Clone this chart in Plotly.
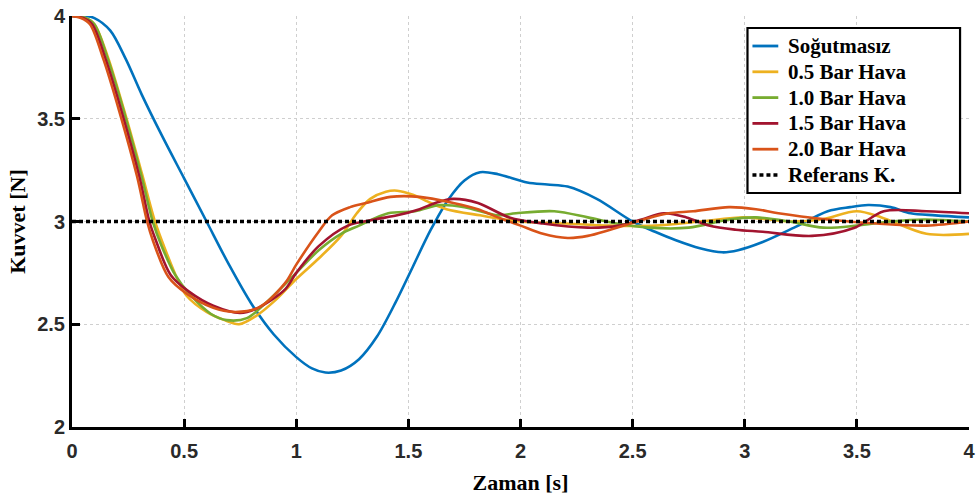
import plotly.graph_objects as go

# Kuvvet yanıtları (zaman [s], kuvvet [N])
t_sogutmasiz = [0, 0.06, 0.10, 0.17, 0.24, 0.31, 0.40, 0.50, 0.60, 0.70, 0.80, 0.90, 1.00, 1.07,
                1.13, 1.20, 1.28, 1.36, 1.44, 1.52, 1.60, 1.68, 1.75, 1.82, 1.90, 2.03, 2.12, 2.21,
                2.34, 2.50, 2.60, 2.69, 2.80, 2.90, 2.97, 3.08, 3.22, 3.37, 3.47, 3.55, 3.65, 3.74,
                3.85, 4.0]
f_sogutmasiz = [4.0, 4.0, 3.99, 3.93, 3.79, 3.62, 3.42, 3.21, 3.00, 2.79, 2.60, 2.45, 2.34, 2.285,
                2.265, 2.275, 2.33, 2.44, 2.60, 2.78, 2.96, 3.11, 3.20, 3.24, 3.23, 3.19, 3.18, 3.17,
                3.11, 3.00, 2.95, 2.91, 2.87, 2.85, 2.86, 2.90, 2.97, 3.05, 3.07, 3.08, 3.07, 3.04,
                3.03, 3.02]

t_05bar = [0, 0.06, 0.10, 0.16, 0.23, 0.31, 0.37, 0.41, 0.47, 0.51, 0.60, 0.68, 0.745, 0.82, 0.91,
           1.0, 1.10, 1.20, 1.27, 1.33, 1.40, 1.45, 1.52, 1.60, 1.67, 1.82, 2.0, 2.2, 2.4, 2.6,
           2.8, 3.0, 3.2, 3.34, 3.50, 3.61, 3.81, 4.0]
f_05bar = [4.0, 3.99, 3.96, 3.80, 3.55, 3.24, 3.00, 2.88, 2.72, 2.64, 2.56, 2.52, 2.50, 2.54, 2.62,
           2.72, 2.82, 2.93, 3.04, 3.11, 3.145, 3.15, 3.13, 3.09, 3.06, 3.03, 3.00, 2.99, 2.98, 2.98,
           3.00, 3.02, 3.00, 3.01, 3.05, 3.02, 2.94, 2.94]

t_10bar = [0, 0.06, 0.10, 0.16, 0.23, 0.31, 0.36, 0.40, 0.46, 0.53, 0.62, 0.69, 0.78, 0.88, 1.0,
           1.10, 1.20, 1.28, 1.41, 1.53, 1.64, 1.75, 1.90, 1.98, 2.15, 2.30, 2.43, 2.57, 2.75,
           2.93, 3.05, 3.2, 3.35, 3.5, 3.65, 3.8, 4.0]
f_10bar = [4.0, 3.99, 3.96, 3.79, 3.54, 3.22, 3.00, 2.88, 2.74, 2.64, 2.55, 2.52, 2.53, 2.62, 2.75,
           2.86, 2.94, 2.98, 3.04, 3.05, 3.08, 3.07, 3.03, 3.04, 3.05, 3.02, 2.99, 2.97, 2.97,
           3.01, 3.02, 3.00, 2.97, 2.98, 3.00, 3.01, 3.00]

t_15bar = [0, 0.05, 0.09, 0.15, 0.22, 0.30, 0.345, 0.37, 0.44, 0.52, 0.63, 0.75, 0.83, 0.95, 1.0,
           1.10, 1.23, 1.35, 1.45, 1.55, 1.62, 1.70, 1.81, 1.95, 2.10, 2.30, 2.44, 2.54, 2.64,
           2.74, 2.84, 2.96, 3.08, 3.30, 3.49, 3.62, 3.81, 4.0]
f_15bar = [4.0, 3.99, 3.96, 3.79, 3.54, 3.22, 3.00, 2.92, 2.74, 2.66, 2.59, 2.555, 2.58, 2.67, 2.75,
           2.88, 2.98, 3.01, 3.03, 3.06, 3.09, 3.11, 3.09, 3.02, 2.99, 2.97, 2.98, 3.01, 3.04,
           3.02, 2.98, 2.96, 2.95, 2.93, 2.97, 3.05, 3.05, 3.04]

t_20bar = [0, 0.04, 0.08, 0.14, 0.21, 0.29, 0.335, 0.36, 0.43, 0.51, 0.63, 0.72, 0.83, 0.95, 1.0,
           1.10, 1.16, 1.24, 1.31, 1.42, 1.55, 1.70, 1.81, 1.90, 2.0, 2.10, 2.21, 2.30, 2.40,
           2.55, 2.66, 2.77, 2.93, 3.05, 3.15, 3.37, 3.59, 3.81, 4.0]
f_20bar = [4.0, 3.99, 3.96, 3.79, 3.54, 3.22, 3.00, 2.91, 2.73, 2.65, 2.58, 2.56, 2.58, 2.70, 2.79,
           2.95, 3.03, 3.07, 3.09, 3.12, 3.12, 3.09, 3.06, 3.02, 2.98, 2.94, 2.92, 2.93, 2.96,
           3.01, 3.04, 3.05, 3.07, 3.06, 3.04, 3.01, 2.99, 2.98, 3.00]

t_referans = [0, 4]
f_referans = [3, 3]

series = [
    ("Soğutmasız", t_sogutmasiz, f_sogutmasiz, "#0072BD"),
    ("0.5 Bar Hava", t_05bar, f_05bar, "#EDB120"),
    ("1.0 Bar Hava", t_10bar, f_10bar, "#77AC30"),
    ("1.5 Bar Hava", t_15bar, f_15bar, "#A2142F"),
    ("2.0 Bar Hava", t_20bar, f_20bar, "#D95319"),
]
ref_name = "Referans K."
ref_dash = "4px,3px"

# Plot area in pixels (used to place the boxed legend in paper coordinates)
W, H = 977, 498
ML, MR, MT, MB = 72, 2, 16, 71
PW, PH = W - ML - MR, H - MT - MB


def px_x(px):
    return (px - ML) / PW


def px_y(py):
    return (H - MB - py) / PH


fig = go.Figure()
for name, t, f, color in series:
    fig.add_trace(go.Scatter(
        x=t, y=f, name=name, mode="lines", showlegend=False,
        line=dict(color=color, width=2.6, shape="spline", smoothing=0.9),
    ))
fig.add_trace(go.Scatter(
    x=t_referans, y=f_referans, name=ref_name, mode="lines", showlegend=False,
    line=dict(color="black", width=3.5, dash=ref_dash),
))

# Boxed legend
legend_font = dict(family="Liberation Serif, Times New Roman", size=21, color="black", weight="bold")
shapes = [dict(type="rect", xref="paper", yref="paper",
               x0=px_x(752), x1=px_x(966), y0=px_y(193), y1=px_y(28),
               line=dict(color="black", width=2.2), fillcolor="white", layer="above")]
annotations = []
entries = [(n, c, "solid", 2.8) for n, _, _, c in series] + [(ref_name, "black", ref_dash, 3.5)]
for i, (name, color, dash, lw) in enumerate(entries):
    yc = 46 + 25.8 * i
    shapes.append(dict(type="line", xref="paper", yref="paper",
                       x0=px_x(757), x1=px_x(783), y0=px_y(yc), y1=px_y(yc),
                       line=dict(color=color, width=lw, dash=dash), layer="above"))
    annotations.append(dict(text=name, xref="paper", yref="paper", x=px_x(791), y=px_y(yc),
                            xanchor="left", yanchor="middle", showarrow=False, font=legend_font))

tick_font = dict(family="Liberation Sans, Arial", size=20, color="#2a2a2a", weight="bold")
title_font = dict(family="Liberation Serif, Times New Roman", size=22, color="black", weight="bold")

fig.update_layout(
    width=W, height=H,
    margin=dict(l=ML, r=MR, t=MT, b=MB),
    paper_bgcolor="white", plot_bgcolor="white",
    showlegend=False,
    shapes=shapes, annotations=annotations,
)
fig.update_xaxes(
    range=[0, 4], tickvals=[0, 0.5, 1, 1.5, 2, 2.5, 3, 3.5, 4],
    ticktext=["0", "0.5", "1", "1.5", "2", "2.5", "3", "3.5", "4"],
    ticklabeloverflow="allow", ticklabelstandoff=4,
    showline=True, linecolor="black", linewidth=3, mirror=False,
    ticks="inside", ticklen=8, tickwidth=2.5, tickcolor="black",
    showgrid=True, gridcolor="#cfcfcf", gridwidth=1, griddash="dot",
    zeroline=False, tickfont=tick_font,
    title=dict(text="Zaman [s]", font=title_font, standoff=14),
)
fig.update_yaxes(
    range=[2, 4], tickvals=[2, 2.5, 3, 3.5, 4],
    ticktext=["2", "2.5", "3", "3.5", "4"],
    showline=True, linecolor="black", linewidth=3, mirror=False,
    ticks="inside", ticklen=8, tickwidth=2.5, tickcolor="black",
    showgrid=True, gridcolor="#cfcfcf", gridwidth=1, griddash="dot",
    zeroline=False, tickfont=tick_font,
    title=dict(text="Kuvvet [N]", font=title_font, standoff=6),
)

fig.write_html("out.html")
